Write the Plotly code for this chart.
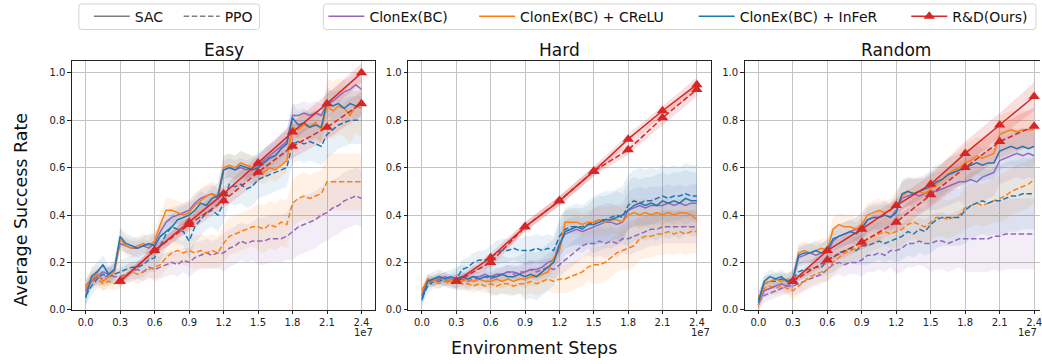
import plotly.graph_objects as go

W, H = 1042, 364
FONT = "DejaVu Sans"

# ---------------- data (x in units of 1e7 environment steps) ----------------
STEPS = [0.00, 0.05, 0.10, 0.15, 0.20, 0.25, 0.30, 0.35, 0.40, 0.45, 0.50, 0.55,
         0.60, 0.65, 0.70, 0.75, 0.80, 0.85, 0.90, 0.95, 1.00, 1.05, 1.10, 1.15,
         1.20, 1.25, 1.30, 1.35, 1.40, 1.45, 1.50, 1.55, 1.60, 1.65, 1.70, 1.75,
         1.80, 1.85, 1.90, 1.95, 2.00, 2.05, 2.10, 2.15, 2.20, 2.25, 2.30, 2.35,
         2.40]
RD_STEPS = [0.3, 0.6, 0.9, 1.2, 1.5, 1.8, 2.1, 2.4]
# stage boundaries for the shaded std bands (one std value per 0.3e7 stage)
STAGE_STARTS = [0.0, 0.3, 0.6, 0.9, 1.2, 1.5, 1.8, 2.1]

PANELS = ["Easy", "Hard", "Random"]
X_TICKS = [0.0, 0.3, 0.6, 0.9, 1.2, 1.5, 1.8, 2.1, 2.4]
X_TICK_LABELS = ["0.0", "0.3", "0.6", "0.9", "1.2", "1.5", "1.8", "2.1", "2.4"]
Y_TICKS = [0.0, 0.2, 0.4, 0.6, 0.8, 1.0]
Y_TICK_LABELS = ["0.0", "0.2", "0.4", "0.6", "0.8", "1.0"]

# ---- Easy ----
E_BC_SAC = [0.08, 0.12, 0.14, 0.16, 0.15, 0.17,
            0.28, 0.27, 0.26, 0.26, 0.27, 0.26,
            0.28, 0.33, 0.37, 0.39, 0.40, 0.41,
            0.42, 0.45, 0.47, 0.48, 0.49, 0.47,
            0.59, 0.60, 0.59, 0.60, 0.59, 0.60,
            0.61, 0.63, 0.65, 0.67, 0.69, 0.71,
            0.82, 0.82, 0.83, 0.82, 0.83, 0.82,
            0.87, 0.88, 0.90, 0.92, 0.93, 0.95,
            0.93]
E_CRELU_SAC = [0.09, 0.13, 0.15, 0.12, 0.14, 0.16,
               0.30, 0.27, 0.26, 0.27, 0.28, 0.27,
               0.29, 0.36, 0.42, 0.42, 0.41, 0.40,
               0.41, 0.44, 0.46, 0.48, 0.49, 0.48,
               0.60, 0.61, 0.60, 0.62, 0.61, 0.60,
               0.59, 0.58, 0.60, 0.59, 0.61, 0.63,
               0.77, 0.76, 0.78, 0.77, 0.79, 0.76,
               0.86, 0.84, 0.86, 0.85, 0.82, 0.86,
               0.85]
E_INFER_SAC = [0.05, 0.14, 0.16, 0.19, 0.15, 0.17,
               0.31, 0.28, 0.27, 0.26, 0.27, 0.28,
               0.27, 0.31, 0.33, 0.35, 0.38, 0.39,
               0.40, 0.42, 0.45, 0.44, 0.47, 0.48,
               0.59, 0.60, 0.59, 0.61, 0.60, 0.59,
               0.60, 0.62, 0.64, 0.65, 0.68, 0.70,
               0.81, 0.78, 0.79, 0.77, 0.78, 0.77,
               0.88, 0.86, 0.87, 0.85, 0.87, 0.86,
               0.87]
E_BC_PPO = [0.10, 0.13, 0.14, 0.13, 0.15, 0.14,
            0.14, 0.15, 0.16, 0.17, 0.16, 0.18,
            0.17, 0.18, 0.19, 0.20, 0.19, 0.21,
            0.20, 0.22, 0.23, 0.24, 0.23, 0.24,
            0.24, 0.26, 0.27, 0.29, 0.28, 0.29,
            0.29, 0.29, 0.30, 0.30, 0.30, 0.31,
            0.33, 0.35, 0.36, 0.37, 0.38, 0.40,
            0.41, 0.43, 0.44, 0.46, 0.47, 0.48,
            0.47]
E_CRELU_PPO = [0.10, 0.12, 0.13, 0.11, 0.12, 0.11,
               0.13, 0.15, 0.16, 0.15, 0.16, 0.17,
               0.18, 0.19, 0.22, 0.24, 0.25, 0.24,
               0.25, 0.24, 0.25, 0.24, 0.25, 0.24,
               0.28, 0.31, 0.32, 0.33, 0.34, 0.35,
               0.35, 0.34, 0.36, 0.35, 0.37, 0.36,
               0.45, 0.47, 0.48, 0.47, 0.48, 0.49,
               0.54, 0.54, 0.54, 0.54, 0.54, 0.54,
               0.54]
E_INFER_PPO = [0.06, 0.10, 0.13, 0.15, 0.14, 0.15,
               0.16, 0.17, 0.18, 0.18, 0.19, 0.21,
               0.22, 0.27, 0.32, 0.35, 0.34, 0.33,
               0.29, 0.35, 0.38, 0.41, 0.42, 0.40,
               0.45, 0.53, 0.52, 0.53, 0.51, 0.52,
               0.55, 0.56, 0.57, 0.58, 0.59, 0.60,
               0.70, 0.71, 0.70, 0.71, 0.70, 0.69,
               0.74, 0.76, 0.78, 0.79, 0.80, 0.80,
               0.80]
E_RD_SAC = [0.12, 0.25, 0.37, 0.49, 0.62, 0.75, 0.87, 1.00]
E_RD_PPO = [0.12, 0.25, 0.36, 0.46, 0.58, 0.69, 0.77, 0.87]

E_BC_SAC_STD = [0.03, 0.03, 0.04, 0.04, 0.04, 0.05, 0.05, 0.05]
E_CRELU_SAC_STD = [0.04, 0.04, 0.05, 0.05, 0.05, 0.05, 0.06, 0.12]
E_INFER_SAC_STD = [0.04, 0.04, 0.05, 0.05, 0.06, 0.06, 0.06, 0.06]
E_BC_PPO_STD = [0.03, 0.04, 0.05, 0.06, 0.08, 0.10, 0.12, 0.12]
E_CRELU_PPO_STD = [0.03, 0.04, 0.05, 0.07, 0.08, 0.10, 0.10, 0.12]
E_INFER_PPO_STD = [0.04, 0.05, 0.06, 0.07, 0.08, 0.08, 0.08, 0.10]
E_RD_SAC_STD = [0.01, 0.02, 0.03, 0.03, 0.03, 0.04, 0.04, 0.04]
E_RD_PPO_STD = [0.01, 0.02, 0.03, 0.03, 0.04, 0.05, 0.05, 0.05]

# ---- Hard ----
H_BC_SAC = [0.06, 0.13, 0.12, 0.13, 0.14, 0.13,
            0.13, 0.14, 0.13, 0.14, 0.14, 0.15,
            0.14, 0.15, 0.15, 0.16, 0.16, 0.15,
            0.16, 0.17, 0.17, 0.18, 0.20, 0.21,
            0.28, 0.32, 0.33, 0.34, 0.33, 0.34,
            0.35, 0.36, 0.37, 0.37, 0.36, 0.37,
            0.42, 0.43, 0.44, 0.43, 0.44, 0.44,
            0.44, 0.45, 0.44, 0.45, 0.44, 0.45,
            0.45]
H_CRELU_SAC = [0.08, 0.13, 0.12, 0.14, 0.13, 0.12,
               0.13, 0.12, 0.13, 0.12, 0.13, 0.12,
               0.12, 0.13, 0.12, 0.13, 0.12, 0.13,
               0.13, 0.14, 0.14, 0.15, 0.16, 0.22,
               0.25, 0.37, 0.37, 0.37, 0.36, 0.37,
               0.37, 0.38, 0.37, 0.38, 0.38, 0.37,
               0.40, 0.41, 0.40, 0.41, 0.40, 0.41,
               0.40, 0.41, 0.40, 0.41, 0.41, 0.40,
               0.38]
H_INFER_SAC = [0.04, 0.12, 0.13, 0.14, 0.13, 0.14,
               0.13, 0.14, 0.13, 0.14, 0.13, 0.14,
               0.14, 0.14, 0.15, 0.14, 0.14, 0.15,
               0.14, 0.15, 0.14, 0.16, 0.18, 0.20,
               0.27, 0.33, 0.34, 0.35, 0.34, 0.36,
               0.36, 0.37, 0.38, 0.38, 0.39, 0.40,
               0.42, 0.44, 0.45, 0.44, 0.45, 0.44,
               0.46, 0.45, 0.46, 0.45, 0.47, 0.46,
               0.46]
H_BC_PPO = [0.06, 0.12, 0.12, 0.13, 0.12, 0.12,
            0.12, 0.13, 0.12, 0.13, 0.13, 0.14,
            0.13, 0.14, 0.15, 0.16, 0.15, 0.16,
            0.16, 0.17, 0.16, 0.17, 0.18, 0.17,
            0.19, 0.21, 0.23, 0.25, 0.27, 0.28,
            0.28, 0.29, 0.28, 0.29, 0.28, 0.30,
            0.30, 0.31, 0.32, 0.33, 0.34, 0.34,
            0.35, 0.35, 0.35, 0.35, 0.35, 0.35,
            0.35]
H_CRELU_PPO = [0.09, 0.11, 0.12, 0.11, 0.12, 0.11,
               0.12, 0.11, 0.11, 0.10, 0.11, 0.10,
               0.11, 0.10, 0.11, 0.11, 0.10, 0.11,
               0.11, 0.12, 0.11, 0.12, 0.13, 0.12,
               0.13, 0.13, 0.14, 0.15, 0.16, 0.18,
               0.19, 0.19, 0.20, 0.22, 0.24, 0.25,
               0.26, 0.27, 0.30, 0.31, 0.31, 0.32,
               0.32, 0.33, 0.32, 0.33, 0.32, 0.33,
               0.33]
H_INFER_PPO = [0.05, 0.10, 0.12, 0.12, 0.13, 0.12,
               0.13, 0.17, 0.18, 0.20, 0.21, 0.21,
               0.22, 0.24, 0.25, 0.25, 0.26, 0.25,
               0.25, 0.25, 0.26, 0.25, 0.26, 0.25,
               0.31, 0.34, 0.35, 0.35, 0.35, 0.36,
               0.37, 0.38, 0.38, 0.39, 0.40, 0.39,
               0.44, 0.46, 0.45, 0.46, 0.46, 0.47,
               0.48, 0.47, 0.48, 0.48, 0.49, 0.48,
               0.48]
H_RD_SAC = [0.12, 0.22, 0.35, 0.46, 0.585, 0.72, 0.84, 0.95]
H_RD_PPO = [0.12, 0.20, 0.35, 0.46, 0.585, 0.675, 0.81, 0.93]

H_BC_SAC_STD = [0.02, 0.02, 0.03, 0.04, 0.06, 0.08, 0.08, 0.08]
H_CRELU_SAC_STD = [0.02, 0.02, 0.03, 0.04, 0.05, 0.06, 0.06, 0.06]
H_INFER_SAC_STD = [0.03, 0.05, 0.08, 0.10, 0.10, 0.12, 0.15, 0.15]
H_BC_PPO_STD = [0.02, 0.03, 0.03, 0.04, 0.05, 0.06, 0.07, 0.07]
H_CRELU_PPO_STD = [0.02, 0.03, 0.04, 0.05, 0.06, 0.08, 0.09, 0.09]
H_INFER_PPO_STD = [0.03, 0.04, 0.05, 0.06, 0.08, 0.10, 0.10, 0.10]
H_RD_SAC_STD = [0.01, 0.02, 0.02, 0.02, 0.02, 0.02, 0.02, 0.03]
H_RD_PPO_STD = [0.01, 0.02, 0.02, 0.02, 0.02, 0.02, 0.03, 0.03]

# ---- Random ----
R_BC_SAC = [0.02, 0.08, 0.09, 0.10, 0.11, 0.10,
            0.12, 0.22, 0.23, 0.24, 0.23, 0.24,
            0.24, 0.29, 0.31, 0.32, 0.33, 0.34,
            0.35, 0.38, 0.39, 0.39, 0.40, 0.39,
            0.42, 0.47, 0.48, 0.49, 0.48, 0.49,
            0.50, 0.50, 0.51, 0.52, 0.53, 0.54,
            0.54, 0.55, 0.54, 0.56, 0.57, 0.58,
            0.63, 0.64, 0.65, 0.66, 0.65, 0.66,
            0.65]
R_CRELU_SAC = [0.02, 0.11, 0.12, 0.13, 0.12, 0.13,
               0.12, 0.24, 0.25, 0.24, 0.25, 0.26,
               0.25, 0.34, 0.36, 0.35, 0.35, 0.34,
               0.36, 0.40, 0.41, 0.42, 0.41, 0.42,
               0.44, 0.48, 0.50, 0.49, 0.50, 0.49,
               0.51, 0.53, 0.55, 0.57, 0.59, 0.60,
               0.62, 0.63, 0.65, 0.64, 0.65, 0.66,
               0.74, 0.75, 0.76, 0.75, 0.76, 0.76,
               0.76]
R_INFER_SAC = [0.03, 0.12, 0.14, 0.13, 0.14, 0.12,
               0.13, 0.23, 0.24, 0.24, 0.25, 0.24,
               0.25, 0.30, 0.31, 0.32, 0.33, 0.32,
               0.34, 0.38, 0.39, 0.39, 0.40, 0.39,
               0.41, 0.49, 0.50, 0.49, 0.50, 0.51,
               0.52, 0.54, 0.55, 0.57, 0.58, 0.59,
               0.60, 0.61, 0.62, 0.61, 0.62, 0.62,
               0.67, 0.68, 0.69, 0.68, 0.69, 0.68,
               0.69]
R_BC_PPO = [0.03, 0.06, 0.07, 0.08, 0.09, 0.10,
            0.10, 0.11, 0.12, 0.13, 0.14, 0.15,
            0.17, 0.19, 0.20, 0.19, 0.20, 0.20,
            0.21, 0.23, 0.23, 0.24, 0.23, 0.25,
            0.25, 0.26, 0.28, 0.28, 0.29, 0.28,
            0.28, 0.29, 0.29, 0.28, 0.29, 0.30,
            0.30, 0.30, 0.30, 0.30, 0.30, 0.31,
            0.31, 0.32, 0.32, 0.32, 0.32, 0.32,
            0.32]
R_CRELU_PPO = [0.05, 0.09, 0.10, 0.09, 0.10, 0.09,
               0.08, 0.10, 0.12, 0.14, 0.15, 0.16,
               0.17, 0.20, 0.22, 0.24, 0.25, 0.26,
               0.27, 0.30, 0.31, 0.32, 0.33, 0.32,
               0.33, 0.34, 0.36, 0.37, 0.36, 0.35,
               0.37, 0.39, 0.39, 0.38, 0.39, 0.40,
               0.43, 0.44, 0.45, 0.44, 0.45, 0.46,
               0.47, 0.48, 0.50, 0.51, 0.52, 0.53,
               0.55]
R_INFER_PPO = [0.04, 0.11, 0.12, 0.12, 0.13, 0.12,
               0.13, 0.16, 0.17, 0.17, 0.18, 0.18,
               0.21, 0.22, 0.24, 0.25, 0.26, 0.25,
               0.27, 0.27, 0.28, 0.29, 0.28, 0.29,
               0.30, 0.31, 0.33, 0.32, 0.34, 0.33,
               0.36, 0.38, 0.39, 0.39, 0.39, 0.39,
               0.42, 0.44, 0.45, 0.46, 0.45, 0.46,
               0.46, 0.47, 0.48, 0.48, 0.49, 0.49,
               0.49]
R_RD_SAC = [0.12, 0.25, 0.34, 0.44, 0.53, 0.66, 0.78, 0.90]
R_RD_PPO = [0.12, 0.21, 0.285, 0.37, 0.485, 0.60, 0.71, 0.775]

R_BC_SAC_STD = [0.03, 0.04, 0.05, 0.06, 0.07, 0.08, 0.10, 0.10]
R_CRELU_SAC_STD = [0.03, 0.04, 0.05, 0.05, 0.06, 0.07, 0.08, 0.08]
R_INFER_SAC_STD = [0.03, 0.04, 0.05, 0.05, 0.06, 0.07, 0.07, 0.08]
R_BC_PPO_STD = [0.03, 0.04, 0.05, 0.07, 0.10, 0.12, 0.14, 0.15]
R_CRELU_PPO_STD = [0.03, 0.04, 0.05, 0.06, 0.07, 0.08, 0.09, 0.10]
R_INFER_PPO_STD = [0.03, 0.04, 0.06, 0.08, 0.10, 0.12, 0.14, 0.15]
R_RD_SAC_STD = [0.01, 0.02, 0.03, 0.03, 0.04, 0.05, 0.05, 0.06]
R_RD_PPO_STD = [0.01, 0.02, 0.03, 0.04, 0.05, 0.06, 0.07, 0.08]

# ---------------- styling ----------------
COLORS = {"ClonEx(BC)": "#9467bd", "ClonEx(BC) + CReLU": "#ff7f0e",
          "ClonEx(BC) + InFeR": "#1f77b4", "R&D(Ours)": "#d62728"}
FILLS = {"ClonEx(BC)": "rgba(148,103,189,0.12)", "ClonEx(BC) + CReLU": "rgba(255,127,14,0.11)",
         "ClonEx(BC) + InFeR": "rgba(31,119,180,0.10)", "R&D(Ours)": "rgba(214,39,40,0.15)"}
DASH = {"SAC": "solid", "PPO": "5.5px,2.6px"}

PANEL_DATA = {
    "Easy": [("ClonEx(BC)", "PPO", E_BC_PPO, E_BC_PPO_STD),
             ("ClonEx(BC) + CReLU", "PPO", E_CRELU_PPO, E_CRELU_PPO_STD),
             ("ClonEx(BC) + InFeR", "PPO", E_INFER_PPO, E_INFER_PPO_STD),
             ("ClonEx(BC)", "SAC", E_BC_SAC, E_BC_SAC_STD),
             ("ClonEx(BC) + CReLU", "SAC", E_CRELU_SAC, E_CRELU_SAC_STD),
             ("ClonEx(BC) + InFeR", "SAC", E_INFER_SAC, E_INFER_SAC_STD)],
    "Hard": [("ClonEx(BC)", "PPO", H_BC_PPO, H_BC_PPO_STD),
             ("ClonEx(BC) + CReLU", "PPO", H_CRELU_PPO, H_CRELU_PPO_STD),
             ("ClonEx(BC) + InFeR", "PPO", H_INFER_PPO, H_INFER_PPO_STD),
             ("ClonEx(BC)", "SAC", H_BC_SAC, H_BC_SAC_STD),
             ("ClonEx(BC) + CReLU", "SAC", H_CRELU_SAC, H_CRELU_SAC_STD),
             ("ClonEx(BC) + InFeR", "SAC", H_INFER_SAC, H_INFER_SAC_STD)],
    "Random": [("ClonEx(BC)", "PPO", R_BC_PPO, R_BC_PPO_STD),
               ("ClonEx(BC) + CReLU", "PPO", R_CRELU_PPO, R_CRELU_PPO_STD),
               ("ClonEx(BC) + InFeR", "PPO", R_INFER_PPO, R_INFER_PPO_STD),
               ("ClonEx(BC)", "SAC", R_BC_SAC, R_BC_SAC_STD),
               ("ClonEx(BC) + CReLU", "SAC", R_CRELU_SAC, R_CRELU_SAC_STD),
               ("ClonEx(BC) + InFeR", "SAC", R_INFER_SAC, R_INFER_SAC_STD)],
}
RD_DATA = {
    "Easy": [("PPO", E_RD_PPO, E_RD_PPO_STD), ("SAC", E_RD_SAC, E_RD_SAC_STD)],
    "Hard": [("PPO", H_RD_PPO, H_RD_PPO_STD), ("SAC", H_RD_SAC, H_RD_SAC_STD)],
    "Random": [("PPO", R_RD_PPO, R_RD_PPO_STD), ("SAC", R_RD_SAC, R_RD_SAC_STD)],
}

for panel in PANELS:
    for _, _, ys, sd in PANEL_DATA[panel]:
        assert len(ys) == len(STEPS), (panel, len(ys))
        assert len(sd) == len(STAGE_STARTS)


def stage_std(x, sd):
    k = 0
    for j, s in enumerate(STAGE_STARTS):
        if x >= s - 1e-9:
            k = j
    return sd[k]


# ---------------- layout geometry (pixels) ----------------
PANEL_PX = [(72, 376), (409, 712), (746, 1042)]
X_RANGES = [[-0.12, 2.52], [-0.12, 2.52], [-0.12, 2.451]]
PLOT_TOP, PLOT_BOTTOM = 62, 315


def px(xp):
    return xp / W


def py(yp):
    return 1 - yp / H


fig = go.Figure()

for p, panel in enumerate(PANELS):
    xa = "x" if p == 0 else f"x{p + 1}"
    ya = "y" if p == 0 else f"y{p + 1}"
    # bands
    for method, algo, ys, sd in PANEL_DATA[panel]:
        up = [v + stage_std(x, sd) for x, v in zip(STEPS, ys)]
        lo = [v - stage_std(x, sd) for x, v in zip(STEPS, ys)]
        fig.add_trace(go.Scatter(x=STEPS + STEPS[::-1], y=up + lo[::-1], fill="toself",
                                 fillcolor=FILLS[method], line=dict(width=0),
                                 mode="lines", hoverinfo="skip", showlegend=False,
                                 xaxis=xa, yaxis=ya))
    for algo, ys, sd in RD_DATA[panel]:
        up = [v + s for v, s in zip(ys, sd)]
        lo = [v - s for v, s in zip(ys, sd)]
        fig.add_trace(go.Scatter(x=RD_STEPS + RD_STEPS[::-1], y=up + lo[::-1], fill="toself",
                                 fillcolor=FILLS["R&D(Ours)"], line=dict(width=0),
                                 mode="lines", hoverinfo="skip", showlegend=False,
                                 xaxis=xa, yaxis=ya))
    # mean lines
    for method, algo, ys, sd in PANEL_DATA[panel]:
        fig.add_trace(go.Scatter(x=STEPS, y=ys, mode="lines",
                                 line=dict(color=COLORS[method], width=1.5, dash=DASH[algo]),
                                 showlegend=False, xaxis=xa, yaxis=ya))
    for algo, ys, sd in RD_DATA[panel]:
        fig.add_trace(go.Scatter(x=RD_STEPS, y=ys, mode="lines+markers",
                                 line=dict(color=COLORS["R&D(Ours)"], width=1.5, dash=DASH[algo]),
                                 marker=dict(symbol="triangle-up", size=10,
                                             color=COLORS["R&D(Ours)"]),
                                 showlegend=False, xaxis=xa, yaxis=ya))

# ---------------- legends (one legend per entry for exact placement) ----------------
LEGEND_ITEMS = [
    ("SAC", "#7f7f7f", "solid", False, 89),
    ("PPO", "#7f7f7f", "5.5px,2.6px", False, 179),
    ("ClonEx(BC)", COLORS["ClonEx(BC)"], "solid", False, 324),
    ("ClonEx(BC) + CReLU", COLORS["ClonEx(BC) + CReLU"], "solid", False, 475),
    ("ClonEx(BC) + InFeR", COLORS["ClonEx(BC) + InFeR"], "solid", False, 695),
    ("R&D(Ours)", COLORS["R&D(Ours)"], "solid", True, 908),
]
legend_layouts = {}
for k, (name, col, dash, mk, lx) in enumerate(LEGEND_ITEMS):
    key = f"legend{k + 2}"
    fig.add_trace(go.Scatter(x=[None], y=[None], name=name,
                             mode="lines+markers" if mk else "lines",
                             line=dict(color=col, width=1.5, dash=dash),
                             marker=dict(symbol="triangle-up", size=10, color=col),
                             showlegend=True, legend=key, xaxis="x", yaxis="y"))
    legend_layouts[key] = dict(x=px(lx), y=py(17), xanchor="left", yanchor="middle",
                               bgcolor="rgba(0,0,0,0)", borderwidth=0,
                               font=dict(family=FONT, size=14, color="#111111"),
                               itemwidth=36, orientation="h")


def rounded_box(x0, y0, x1, y1, r=3):
    return (f"M {px(x0 + r)} {py(y0)} L {px(x1 - r)} {py(y0)} "
            f"Q {px(x1)} {py(y0)} {px(x1)} {py(y0 + r)} L {px(x1)} {py(y1 - r)} "
            f"Q {px(x1)} {py(y1)} {px(x1 - r)} {py(y1)} L {px(x0 + r)} {py(y1)} "
            f"Q {px(x0)} {py(y1)} {px(x0)} {py(y1 - r)} L {px(x0)} {py(y0 + r)} "
            f"Q {px(x0)} {py(y0)} {px(x0 + r)} {py(y0)} Z")


shapes = [
    dict(type="path", xref="paper", yref="paper", path=rounded_box(79, 4, 260, 30),
         line=dict(color="#d4d4d4", width=1), fillcolor="rgba(255,255,255,0.8)", layer="below"),
    dict(type="path", xref="paper", yref="paper", path=rounded_box(324, 4, 1038, 30),
         line=dict(color="#d4d4d4", width=1), fillcolor="rgba(255,255,255,0.8)", layer="below"),
]

annotations = []
for p, panel in enumerate(PANELS):
    x0, x1 = PANEL_PX[p]
    annotations.append(dict(text=panel, x=px(x0 + 152), y=py(51), xref="paper", yref="paper",
                            showarrow=False, xanchor="center", yanchor="middle",
                            font=dict(family=FONT, size=17, color="#111111")))
    annotations.append(dict(text="1e7", x=px(min(x0 + 304, 1041)), y=py(338), xref="paper",
                            yref="paper", showarrow=False, xanchor="right", yanchor="middle",
                            font=dict(family=FONT, size=10, color="#222222")))
annotations.append(dict(text="Environment Steps", x=px(535), y=py(354), xref="paper",
                        yref="paper", showarrow=False, xanchor="center", yanchor="middle",
                        font=dict(family=FONT, size=17.5, color="#111111")))
annotations.append(dict(text="Average Success Rate", x=px(22), y=py(213), xref="paper",
                        yref="paper", showarrow=False, xanchor="center", yanchor="middle",
                        textangle=-90, font=dict(family=FONT, size=17.5, color="#111111")))

layout = dict(width=W, height=H, autosize=False, margin=dict(l=0, r=0, t=0, b=0),
              paper_bgcolor="white", plot_bgcolor="white",
              font=dict(family=FONT, size=10, color="#222222"),
              shapes=shapes, annotations=annotations, hovermode=False,
              legend=dict(visible=False))
layout.update(legend_layouts)

for p in range(3):
    x0, x1 = PANEL_PX[p]
    xk = "xaxis" if p == 0 else f"xaxis{p + 1}"
    yk = "yaxis" if p == 0 else f"yaxis{p + 1}"
    layout[xk] = dict(domain=[px(x0), min(px(x1), 1.0)], range=X_RANGES[p],
                      anchor="y" if p == 0 else f"y{p + 1}",
                      tickvals=X_TICKS, ticktext=X_TICK_LABELS, ticks="outside", ticklen=3.5,
                      tickwidth=1, tickcolor="#222222", showgrid=True, gridcolor="#c4c4c4",
                      gridwidth=1.3, zeroline=False, showline=True, linecolor="#222222",
                      linewidth=1, mirror=True, tickfont=dict(size=10),
                      ticklabeloverflow="allow")
    layout[yk] = dict(domain=[py(PLOT_BOTTOM), py(PLOT_TOP)], range=[0, 1.05],
                      anchor="x" if p == 0 else f"x{p + 1}",
                      tickvals=Y_TICKS, ticktext=Y_TICK_LABELS, ticks="outside", ticklen=3.5,
                      tickwidth=1, tickcolor="#222222", showgrid=True, gridcolor="#c4c4c4",
                      gridwidth=1.3, zeroline=False, showline=True, linecolor="#222222",
                      linewidth=1, mirror=(p < 2), tickfont=dict(size=10))

fig.update_layout(**layout)
fig.write_html("out.html")
